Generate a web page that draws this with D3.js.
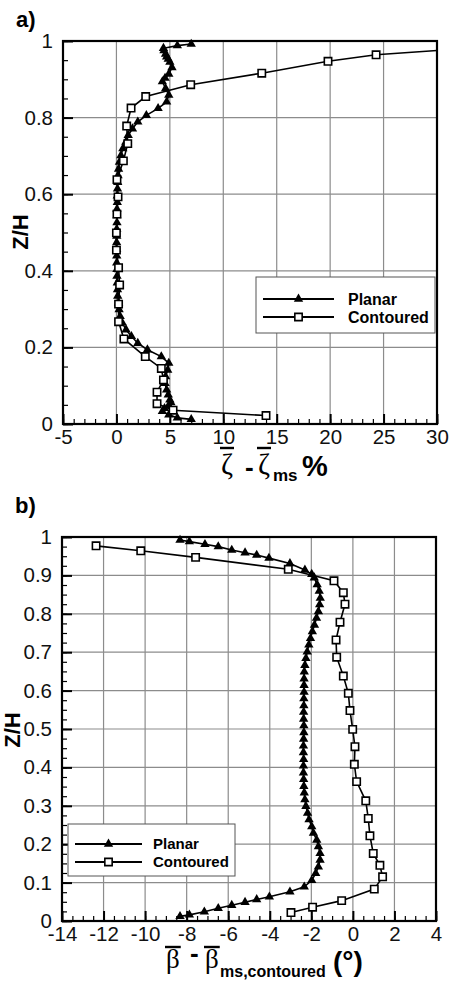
<!DOCTYPE html>
<html>
<head>
<meta charset="utf-8">
<script src="https://cdn.jsdelivr.net/npm/d3@7"></script>
<style>
  body { margin: 0; background: #fff; }
  svg { display: block; }
</style>
</head>
<body>
<div id="chart"></div>
<script>
const WIDTH = 450
const HEIGHT = 981
const SANS = '"Liberation Sans", Arial, sans-serif'
const SERIF = '"Liberation Serif", "DejaVu Serif", serif'

// hauteurs des points de mesure (Z/H)
const planarZ = [0.012, 0.016, 0.024, 0.033, 0.041, 0.049, 0.056, 0.063, 0.076, 0.089, 0.106,
  0.124, 0.141, 0.159, 0.176, 0.194, 0.211, 0.229, 0.246, 0.264, 0.281,
  0.299, 0.316, 0.334, 0.351, 0.369, 0.386, 0.404, 0.421, 0.439, 0.456,
  0.474, 0.491, 0.509, 0.526, 0.544, 0.561, 0.579, 0.596, 0.614, 0.631,
  0.649, 0.666, 0.684, 0.701, 0.719, 0.736, 0.754, 0.771, 0.789, 0.806,
  0.824, 0.841, 0.859, 0.876,
  0.894, 0.903, 0.914, 0.931, 0.945, 0.953, 0.959, 0.966, 0.975, 0.981, 0.988, 0.992]
const contouredZ = [0.022, 0.036, 0.053, 0.083, 0.115, 0.145, 0.176, 0.222, 0.267, 0.313,
  0.363, 0.408, 0.454, 0.499, 0.548, 0.593, 0.638, 0.687, 0.732, 0.778,
  0.825, 0.855, 0.886, 0.916, 0.947, 0.964, 0.977]

// a) zeta - zeta_ms (%)
const zetaPlanar = [7.0, 5.7, 4.9, 4.3, 4.5, 4.9, 5.1, 5.0, 4.85, 4.7, 4.55,
  4.6, 4.8, 4.9, 4.2, 2.9, 2.0, 1.4, 0.9, 0.55, 0.35,
  0.25, 0.2, 0.12, 0.1, 0.08, 0.05, 0.05, 0.03, 0.03, 0.02,
  0.02, 0.03, 0.03, 0.05, 0.05, 0.05, 0.08, 0.08, 0.1, 0.12,
  0.15, 0.2, 0.28, 0.42, 0.6, 0.88, 1.1, 1.5, 2.0, 2.8,
  3.9, 4.7, 4.9, 4.6,
  4.3, 4.55, 4.9, 5.2, 5.0, 4.85, 4.7, 4.6, 4.45, 4.4, 5.7, 7.0]
const zetaContoured = [14.0, 5.3, 3.8, 3.8, 4.4, 4.2, 2.7, 0.7, 0.2, 0.2,
  0.3, 0.2, 0.0, 0.0, 0.05, 0.15, 0.05, 0.65, 1.06, 0.96,
  1.37, 2.74, 6.95, 13.6, 19.8, 24.3, 31.0]

// b) beta - beta_ms,contoured (deg)
const betaPlanar = [-8.32, -7.87, -7.15, -6.48, -5.83, -5.19, -4.63, -4.02, -3.03, -2.34, -1.98,
  -1.79, -1.66, -1.58, -1.58, -1.66, -1.74, -1.90, -1.98, -2.11, -2.18,
  -2.26, -2.31, -2.34, -2.36, -2.37, -2.38, -2.38, -2.37, -2.38, -2.38,
  -2.37, -2.36, -2.36, -2.37, -2.37, -2.36, -2.36, -2.35, -2.35, -2.35,
  -2.34, -2.31, -2.26, -2.20, -2.12, -2.04, -1.95, -1.85, -1.75, -1.66,
  -1.60, -1.57, -1.62, -1.72,
  -1.86, -1.98, -2.31, -3.03, -4.04, -4.63, -5.19, -5.83, -6.48, -7.12, -7.87, -8.32]
const betaContoured = [-2.98, -1.94, -0.54, 1.03, 1.43, 1.30, 0.98, 0.82, 0.74, 0.62,
  0.18, 0.07, 0.10, -0.01, -0.14, -0.22, -0.46, -0.78, -0.81, -0.62,
  -0.38, -0.46, -0.91, -3.11, -7.57, -10.21, -12.36]

// graduations
const zetaTicks = [-5, 0, 5, 10, 15, 20, 25, 30]
const zTicksA = [0, 0.2, 0.4, 0.6, 0.8, 1]
const betaTicks = [-14, -12, -10, -8, -6, -4, -2, 0, 2, 4]
const zTicksB = [0, 0.1, 0.2, 0.3, 0.4, 0.5, 0.6, 0.7, 0.8, 0.9, 1]
const seriesNames = ['Planar', 'Contoured']

const svg = d3.select('#chart').append('svg')
  .attr('width', WIDTH).attr('height', HEIGHT)
  .attr('font-family', SANS)

const triangle = d3.symbol().type(d3.symbolTriangle).size(38)
const square = d3.symbol().type(d3.symbolSquare).size(54)

function drawPanel(p) {
  const x = d3.scaleLinear().domain(p.xDomain).range([p.left, p.right])
  const y = d3.scaleLinear().domain([0, 1]).range([p.bottom, p.top])
  const g = svg.append('g')

  // grille
  g.append('g').selectAll('line').data(p.xTicks.slice(1, -1)).join('line')
    .attr('x1', d => x(d)).attr('x2', d => x(d))
    .attr('y1', p.top).attr('y2', p.bottom)
    .attr('stroke', '#8c8c8c').attr('stroke-width', 1.2)
  g.append('g').selectAll('line').data(p.yTicks.slice(1, -1)).join('line')
    .attr('x1', p.left).attr('x2', p.right)
    .attr('y1', d => y(d)).attr('y2', d => y(d))
    .attr('stroke', '#8c8c8c').attr('stroke-width', 1.2)

  // petites graduations
  const xMinor = d3.range(p.xDomain[0], p.xDomain[1] + 1e-9, p.xMinor)
  const yMinor = d3.range(0, 1 + 1e-9, p.yMinor)
  g.append('g').attr('transform', `translate(0,${p.bottom})`)
    .call(d3.axisBottom(x).tickValues(xMinor).tickSize(-5).tickFormat(''))
    .call(a => a.select('.domain').remove())
    .selectAll('line').attr('stroke-width', 1.2)
  g.append('g').attr('transform', `translate(${p.left},0)`)
    .call(d3.axisLeft(y).tickValues(yMinor).tickSize(-5).tickFormat(''))
    .call(a => a.select('.domain').remove())
    .selectAll('line').attr('stroke-width', 1.2)

  // graduations principales
  const ax = g.append('g').attr('transform', `translate(0,${p.bottom})`)
    .call(d3.axisBottom(x).tickValues(p.xTicks).tickSize(-10).tickPadding(5).tickFormat(d => d))
  const ay = g.append('g').attr('transform', `translate(${p.left},0)`)
    .call(d3.axisLeft(y).tickValues(p.yTicks).tickSize(-10).tickPadding(10).tickFormat(d => d))
  ;[ax, ay].forEach(a => {
    a.select('.domain').remove()
    a.attr('font-family', SANS).attr('font-size', 20.5)
    a.selectAll('line').attr('stroke-width', 2)
    a.selectAll('text').attr('fill', '#111')
  })

  // courbes
  const clipId = 'clip-' + p.name
  svg.append('clipPath').attr('id', clipId).append('rect')
    .attr('x', p.left).attr('y', p.top - 6)
    .attr('width', p.right - p.left).attr('height', p.bottom - p.top + 6)
  const plot = g.append('g').attr('clip-path', `url(#${clipId})`)
  const line = d3.line().x(d => x(d[0])).y(d => y(d[1]))

  const planar = p.planar.map((v, i) => [v, planarZ[i]])
  const contoured = p.contoured.map((v, i) => [v, contouredZ[i]])

  plot.append('path').datum(planar).attr('d', line)
    .attr('fill', 'none').attr('stroke', '#000').attr('stroke-width', 1.6)
  plot.append('path').datum(contoured).attr('d', line)
    .attr('fill', 'none').attr('stroke', '#000').attr('stroke-width', 1.6)
  plot.append('g').selectAll('path').data(planar).join('path')
    .attr('d', triangle)
    .attr('transform', d => `translate(${x(d[0])},${y(d[1])})`)
    .attr('fill', '#000')
  plot.append('g').selectAll('path').data(contoured).join('path')
    .attr('d', square)
    .attr('transform', d => `translate(${x(d[0])},${y(d[1])})`)
    .attr('fill', '#fff').attr('stroke', '#000').attr('stroke-width', 1.6)

  // cadre
  g.append('rect')
    .attr('x', p.left).attr('y', p.top)
    .attr('width', p.right - p.left).attr('height', p.bottom - p.top)
    .attr('fill', 'none').attr('stroke', '#000').attr('stroke-width', 2.2)

  // legende
  const L = p.legend
  const lg = svg.append('g')
  lg.append('rect').attr('x', L.x).attr('y', L.y).attr('width', L.w).attr('height', L.h)
    .attr('fill', '#fff').attr('stroke', '#555').attr('stroke-width', 1)
  seriesNames.forEach((name, i) => {
    const ry = L.y + L.row0 + i * L.dy
    lg.append('line').attr('x1', L.x + L.l0).attr('x2', L.x + L.l1)
      .attr('y1', ry).attr('y2', ry).attr('stroke', '#000').attr('stroke-width', 2.2)
    lg.append('path').attr('d', i === 0 ? triangle : square)
      .attr('transform', `translate(${L.x + (L.l0 + L.l1) / 2},${ry})`)
      .attr('fill', i === 0 ? '#000' : '#fff').attr('stroke', i === 0 ? 'none' : '#000')
      .attr('stroke-width', 1.6)
    lg.append('text').attr('x', L.x + L.tx).attr('y', ry + L.fs * 0.36)
      .attr('font-size', L.fs).attr('font-weight', 'bold').text(name)
  })

  // titres
  svg.append('text').attr('x', p.tag[0]).attr('y', p.tag[1])
    .attr('font-size', 22).attr('font-weight', 'bold').text(p.name + ')')
  svg.append('text')
    .attr('transform', `translate(${p.zh[0]},${p.zh[1]}) rotate(-90)`)
    .attr('text-anchor', 'middle').attr('font-size', 22).attr('font-weight', 'bold')
    .text('Z/H')
  p.title.forEach(t => {
    const el = svg.append('text').attr('x', t.x).attr('y', t.y)
      .attr('font-family', t.serif ? SERIF : SANS)
      .attr('font-weight', t.serif ? 'normal' : 'bold')
      .attr('font-size', t.fs).text(t.text)
    if (t.bar) {
      const w = el.node().getComputedTextLength()
      svg.append('line').attr('x1', t.x - 1).attr('x2', t.x + w + 1)
        .attr('y1', t.bar).attr('y2', t.bar)
        .attr('stroke', '#000').attr('stroke-width', 2.4)
    }
  })
}

drawPanel({
  name: 'a', left: 63, right: 437, top: 41, bottom: 424,
  xDomain: [-5, 30], xTicks: zetaTicks, yTicks: zTicksA, xMinor: 1, yMinor: 0.05,
  planar: zetaPlanar, contoured: zetaContoured,
  legend: { x: 256, y: 277, w: 179, h: 56, row0: 22, dy: 18, l0: 7, l1: 78, tx: 92, fs: 16 },
  tag: [16, 27], zh: [28, 232],
  title: [
    { text: 'ζ', x: 221, y: 474, fs: 29, serif: true, bar: 448 },
    { text: '-', x: 245, y: 476, fs: 26 },
    { text: 'ζ', x: 258, y: 474, fs: 29, serif: true, bar: 448 },
    { text: 'ms', x: 273, y: 481, fs: 17 },
    { text: '%', x: 302, y: 476, fs: 29 }
  ]
})

drawPanel({
  name: 'b', left: 62, right: 436, top: 537, bottom: 921,
  xDomain: [-14, 4], xTicks: betaTicks, yTicks: zTicksB, xMinor: 0.5, yMinor: 0.025,
  planar: betaPlanar, contoured: betaContoured,
  legend: { x: 68, y: 824, w: 167, h: 52, row0: 20, dy: 18, l0: 7, l1: 74, tx: 85, fs: 15 },
  tag: [15, 513], zh: [20, 730],
  title: [
    { text: 'β', x: 166, y: 968, fs: 27, serif: true, bar: 947 },
    { text: '-', x: 190, y: 962, fs: 26 },
    { text: 'β', x: 205, y: 968, fs: 27, serif: true, bar: 947 },
    { text: 'ms,contoured', x: 220, y: 977, fs: 16 },
    { text: '(°)', x: 333, y: 971, fs: 28 }
  ]
})
</script>
</body>
</html>
